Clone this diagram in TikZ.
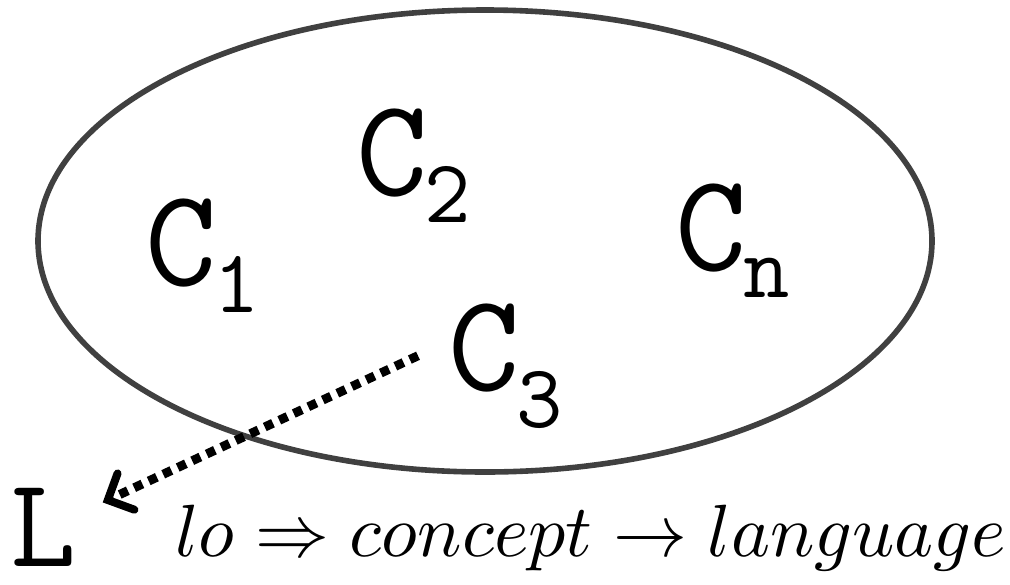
\documentclass[tikz,border=0pt]{standalone}
\usepackage{graphicx}
\usetikzlibrary{arrows.meta,shapes.geometric}
\newcommand{\cbig}{\fontsize{69.5}{70}\selectfont\ttfamily}
\newcommand{\csub}[2][0pt]{\kern-1.5pt\raisebox{\dimexpr-13.5pt-#1\relax}{\fontsize{45}{45}\selectfont\ttfamily #2}}
\tikzset{
  setshape/.style={draw=black!75, line width=2.8pt, ellipse, inner sep=0pt},
  concept/.style={inner sep=0pt, anchor=base west, font=\cbig},
  dotarrow/.style={line width=4.5pt, dash pattern=on 4.5pt off 3.5pt, -{Straight Barb[length=10pt,width=20pt,line width=4pt,line cap=round]}},
}
\begin{document}
\begin{tikzpicture}[x=0.5pt,y=-0.5pt]
\useasboundingbox (0,0) rectangle (1010,584);
\node[setshape, minimum width=447pt, minimum height=231pt] (set) at (485,241) {};
\node[concept] (c1) at (145,285) {C\csub{1}};
\node[concept] (c2) at (356,195) {C\csub{2}};
\node[concept] (cn) at (675,270) {C\csub{n}};
\node[concept] (c3) at (448,390) {C\csub[5pt]{3}};
\node[inner sep=0pt, anchor=base west, font=\fontsize{64}{64}\selectfont\ttfamily] (L) at (10,566) {L};
\node[inner sep=0pt, anchor=base west] (txt) at (175,556) {\scalebox{3.7}{$lo \Rightarrow concept \rightarrow language$}};
\draw[dotarrow] ([shift={(-30,-10)}]c3.west) -- ([shift={(26,15)}]L.north east);
\end{tikzpicture}
\end{document}
